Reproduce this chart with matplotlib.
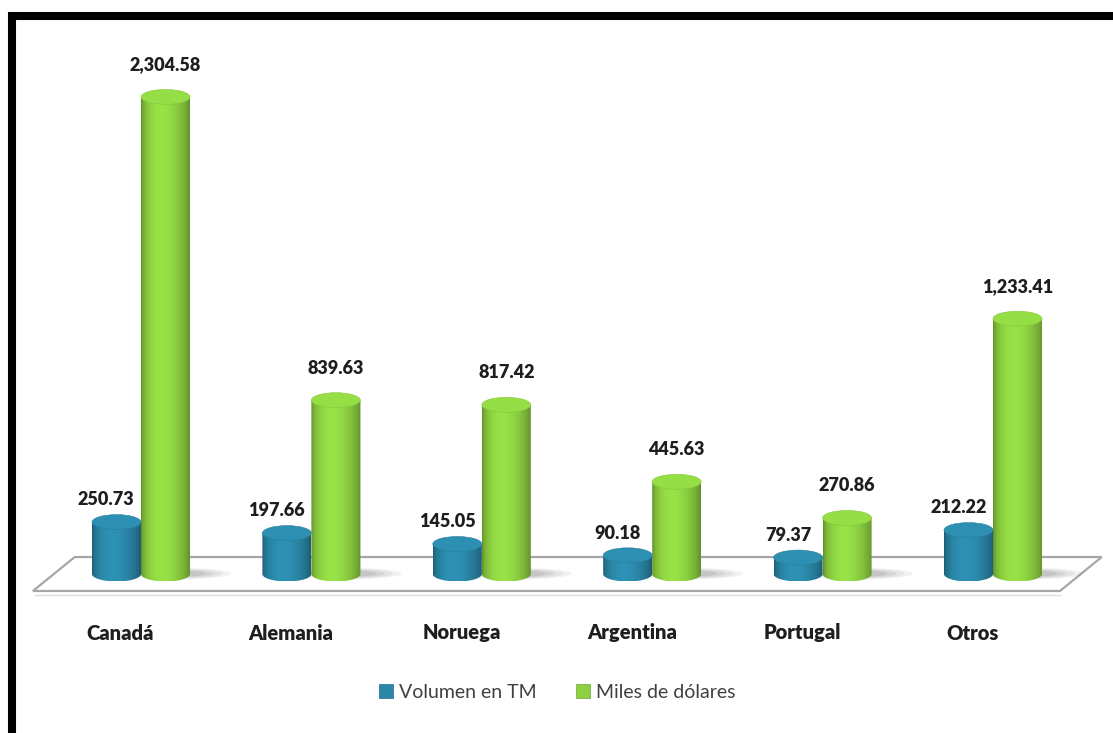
import numpy as np
import matplotlib
matplotlib.use('Agg')
import matplotlib.pyplot as plt
from matplotlib.patches import Polygon, Ellipse, Rectangle, Patch
from matplotlib.colors import to_rgb

# ---------------------------------------------------------------------------
# Data
categories = ['Canadá', 'Alemania', 'Noruega', 'Argentina', 'Portugal', 'Otros']
volumen = [250.73, 197.66, 145.05, 90.18, 79.37, 212.22]      # Volumen en TM
miles = [2304.58, 839.63, 817.42, 445.63, 270.86, 1233.41]     # Miles de dólares
series_names = ['Volumen en TM', 'Miles de dólares']
series_colors = ['#2a87a7', '#8dd141']

plt.rcParams['font.family'] = ['Lato', 'DejaVu Sans']

# ---------------------------------------------------------------------------
# Figure / axes: x = category index, y = value
W, H = 1113, 733
fig = plt.figure(figsize=(W / 100, H / 100), dpi=100)
ax = fig.add_axes([0, 0, 1, 1])
px_per_cat = 170.4
px_per_val = 0.207
x0_px, y0_px = 141, 574
ax.set_xlim(-x0_px / px_per_cat, (W - x0_px) / px_per_cat)
ax.set_ylim((y0_px - H) / px_per_val, y0_px / px_per_val)
ax.axis('off')

bar_w = 49 / px_per_cat
ry = 7.5 / px_per_val


def shade(color, f):
    return np.clip(np.array(to_rgb(color)) * f, 0, 1)


def cylinder(xc, h, color, z):
    xl, xr = xc - bar_w / 2, xc + bar_w / 2
    t = np.linspace(np.pi, 2 * np.pi, 50)
    bottom = list(zip(xc + bar_w / 2 * np.cos(t), ry * np.sin(t)))
    verts = [(xl, h)] + bottom + [(xr, h)]
    body = Polygon(verts, closed=True, facecolor='none', edgecolor='none', zorder=z)
    ax.add_patch(body)
    s = np.linspace(0, 1, 60) ** 0.8
    f = 0.68 + 0.4 * np.sin(np.pi * s) ** 0.7
    grad = np.array([[shade(color, v) for v in f]])
    im = ax.imshow(grad, extent=[xl, xr, -ry, h], aspect='auto',
                   interpolation='bicubic', zorder=z)
    im.set_clip_path(body)
    ax.add_patch(Ellipse((xc, h), bar_w, 2 * ry, facecolor=shade(color, 1.06),
                         edgecolor=shade(color, 0.95), lw=0.4, zorder=z + 0.1))


# floor
front_l, front_r, shift = -0.634, 5.393, 0.245
depth = 82
floor = [(front_l, -depth), (front_r, -depth),
         (front_r + shift, depth), (front_l + shift, depth)]
ax.add_patch(Polygon(floor, closed=True, facecolor='white', edgecolor='#a6a6a6',
                     lw=1.6, zorder=1))
ax.plot([front_l + 0.01, front_r], [-depth - 18, -depth - 18], color='#dedede',
        lw=1.0, zorder=1)

# soft shadows on floor
for i in range(len(categories)):
    for k, a in enumerate([0.10, 0.12, 0.15, 0.18]):
        ax.add_patch(Ellipse((i + 0.22, 2), 0.62 - 0.1 * k, 55 - 8 * k,
                             facecolor='#808080', edgecolor='none', alpha=a,
                             zorder=1.5))

for i, cat in enumerate(categories):
    xb = i - bar_w / 2
    xg = i + bar_w / 2
    cylinder(xb, volumen[i], series_colors[0], 3 + i)
    cylinder(xg, miles[i], series_colors[1], 3.5 + i)
    ax.annotate(f'{volumen[i]:,.2f}', (xb - 0.06, volumen[i]), xytext=(0, 16),
                textcoords='offset points', ha='center', va='center',
                fontsize=13, fontweight='heavy', color='#1e1e1e', zorder=20)
    ax.annotate(f'{miles[i]:,.2f}', (xg, miles[i]), xytext=(0, 23),
                textcoords='offset points', ha='center', va='center',
                fontsize=13, fontweight='heavy', color='#1e1e1e', zorder=20)
    ax.text(i - 0.12, (y0_px - 633) / px_per_val, cat, ha='center', va='center',
            fontsize=14.5, fontweight='heavy', color='#1e1e1e')

# legend
handles = [Patch(facecolor=c, edgecolor=shade(c, 0.8), lw=0.5) for c in series_colors]
fig.legend(handles, series_names, loc='center', ncol=2, frameon=False,
           bbox_to_anchor=(557 / W, 1 - 692 / H), fontsize=14,
           handlelength=0.75, handleheight=0.75, handletextpad=0.3,
           columnspacing=2.0, labelcolor='#404040')

# black frame (cut off at right and bottom)
fig.add_artist(Rectangle((12 / W, -0.1), 1.2, 1 - 16 / H + 0.1,
                         transform=fig.transFigure, fill=False,
                         edgecolor='black', lw=5.8, clip_on=False))

plt.savefig('out.png', dpi=100)
